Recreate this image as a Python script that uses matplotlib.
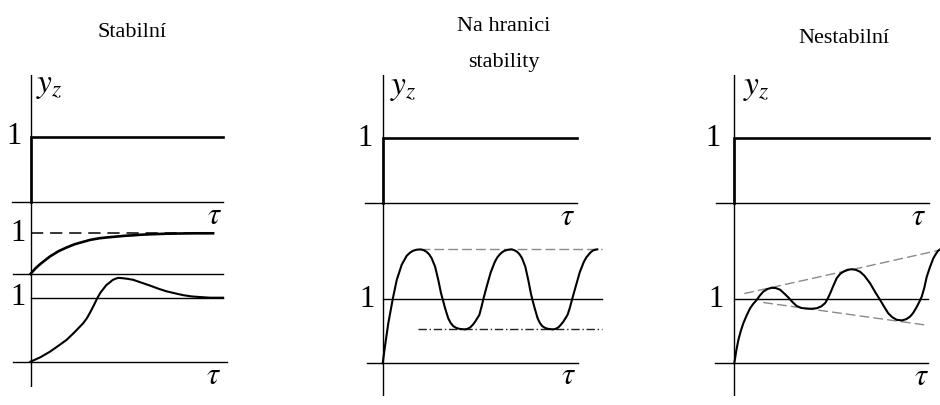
import matplotlib
matplotlib.use("Agg")
import matplotlib.pyplot as plt

plt.rcParams['font.family'] = ['Liberation Serif', 'DejaVu Serif']
plt.rcParams['mathtext.fontset'] = 'stix'

# column titles
titles = ["Stabilní", "Na hranici\nstability", "Nestabilní"]

# unit step input (same in every column)
step_tau = [0, 0]
step_y = [0, 1, 1]

# stable: first-order response
exp_tau = [0, 0.25, 0.5, 0.97, 1.4, 1.8, 2.2, 2.63, 3.0, 3.47, 3.85, 4.3,
           4.75, 5.13, 5.5, 5.97, 6.8, 7.5, 8.25, 9.13]
exp_y = [0, 0.14, 0.25, 0.43, 0.56, 0.65, 0.73, 0.79, 0.84, 0.88, 0.90, 0.92,
         0.94, 0.95, 0.965, 0.975, 0.99, 0.995, 1.0, 1.0]

# stable: response with overshoot
over_tau = [0, 0.5, 0.97, 1.4, 1.8, 2.2, 2.63, 2.82, 3.0, 3.18, 3.35, 3.5,
            3.65, 3.8, 3.97, 4.1, 4.2, 4.38, 4.6, 4.85, 5.13, 5.5, 5.97, 6.4,
            6.8, 7.2, 7.63, 8.05, 8.47, 9.0, 9.63]
over_y = [0, 0.07, 0.156, 0.25, 0.34, 0.46, 0.6, 0.68, 0.78, 0.89, 1.0, 1.08,
          1.14, 1.2, 1.24, 1.275, 1.29, 1.31, 1.305, 1.295, 1.28, 1.24, 1.19,
          1.14, 1.1, 1.07, 1.04, 1.02, 1.01, 1.0, 1.0]

# boundary of stability: undamped oscillation
osc_tau = [0, 0.12, 0.28, 0.5, 0.7, 0.95, 1.2, 1.37, 1.53, 1.7, 1.9, 2.07,
           2.2, 2.33, 2.45, 2.62, 2.78, 2.92, 3.0, 3.12, 3.28, 3.4, 3.53, 3.7,
           3.87, 4.12, 4.25, 4.37, 4.5, 4.62, 4.83, 4.93, 5.03, 5.2, 5.4, 5.6,
           5.72, 5.85, 5.97, 6.1, 6.28, 6.45, 6.6, 6.73, 6.85, 6.97, 7.13,
           7.28, 7.41, 7.48, 7.6, 7.75, 7.86, 7.98, 8.14, 8.3, 8.53, 8.66,
           8.78, 8.9, 9.03, 9.24, 9.36, 9.47, 9.65, 9.85, 10.05, 10.17, 10.3,
           10.4, 10.5, 10.62, 10.73]
osc_y = [0, 0.28, 0.625, 1.0, 1.30, 1.54, 1.68, 1.73, 1.76, 1.775, 1.78,
         1.765, 1.74, 1.70, 1.64, 1.51, 1.30, 1.09, 1.0, 0.86, 0.70, 0.63,
         0.58, 0.55, 0.536, 0.53, 0.54, 0.56, 0.6, 0.65, 0.755, 0.87, 1.0,
         1.2, 1.42, 1.58, 1.65, 1.70, 1.735, 1.76, 1.775, 1.78, 1.765, 1.74,
         1.70, 1.64, 1.51, 1.30, 1.09, 1.0, 0.86, 0.70, 0.63, 0.58, 0.55,
         0.536, 0.53, 0.54, 0.56, 0.6, 0.65, 0.755, 0.87, 1.0, 1.2, 1.42,
         1.58, 1.65, 1.70, 1.735, 1.76, 1.775, 1.78]
osc_hi = 1.78
osc_lo = 0.53

# unstable: growing oscillation
grow_tau = [0, 0.1, 0.2, 0.32, 0.45, 0.62, 0.79, 0.95, 1.12, 1.28, 1.45, 1.65,
            1.87, 2.08, 2.29, 2.5, 2.7, 2.9, 3.12, 3.35, 3.62, 3.87, 4.12,
            4.35, 4.54, 4.67, 4.79, 4.95, 5.12, 5.3, 5.45, 5.65, 5.87, 6.08,
            6.29, 6.5, 6.79, 7.05, 7.29, 7.5, 7.7, 7.9, 8.12, 8.37, 8.6, 8.79,
            8.95, 9.12, 9.25, 9.37, 9.5, 9.62, 9.78, 9.95, 10.08, 10.2, 10.29]
grow_y = [0, 0.2, 0.36, 0.5, 0.625, 0.75, 0.86, 0.93, 0.99, 1.06, 1.12, 1.16,
          1.18, 1.175, 1.15, 1.09, 1.03, 0.96, 0.895, 0.865, 0.855, 0.852,
          0.86, 0.89, 0.94, 1.01, 1.09, 1.21, 1.33, 1.40, 1.43, 1.46, 1.47,
          1.46, 1.43, 1.37, 1.25, 1.11, 0.99, 0.88, 0.78, 0.72, 0.68, 0.67,
          0.69, 0.73, 0.79, 0.88, 0.96, 1.04, 1.18, 1.35, 1.5, 1.64, 1.71,
          1.76, 1.78]
env_hi_tau = [0.5, 10.29]
env_hi_y = [1.09, 1.77]
env_lo_tau = [1.45, 9.52]
env_lo_y = [0.95, 0.6]

W, H = 940, 405
AXIS_LW = 1.0
STEP_LW = 1.9
CURVE_LW = 1.5
BIG = 22

fig = plt.figure(figsize=(W / 100, H / 100), dpi=100)


def sub_axes(x_axis, y_top, y_base, y_bottom, ppu):
    # one stacked diagram; geometry given in pixels, data in tau / y units
    ax = fig.add_axes([(x_axis - 30) / W, 1 - y_bottom / H,
                       260 / W, (y_bottom - y_top) / H])
    ax.set_xlim(-1.5, 11.5)
    ax.set_ylim((y_base - y_bottom) / ppu, (y_base - y_top) / ppu)
    ax.axis('off')
    ax.axvline(0, color='k', lw=AXIS_LW)
    return ax


def baseline(ax, x0, x1):
    ax.plot([x0, x1], [0, 0], color='k', lw=AXIS_LW, clip_on=False)


def one_label(ax, x, y=1.0):
    ax.text(x, y, "1", fontsize=BIG, ha='center', va='center')


def tau_label(ax, x, y):
    ax.text(x, y, r"$\tau$", fontsize=BIG, ha='center', va='center')


def step_diagram(ax, x_end, left, one_x, tau_x, yz_x):
    ax.plot(step_tau + [x_end], step_y, color='k', lw=STEP_LW,
            solid_joinstyle='miter', clip_on=False)
    baseline(ax, left, x_end)
    one_label(ax, one_x)
    ax.text(yz_x, 1.78, r"$y_z$", fontsize=24, ha='left', va='center')
    tau_label(ax, tau_x, -0.22)


# --- Stabilní ---
a_top = sub_axes(30.5, 75, 202, 202, 65.3)
a_mid = sub_axes(30.5, 202, 274, 274, 40.7)
a_bot = sub_axes(30.5, 274, 361.7, 387, 64)
step_diagram(a_top, 9.64, -0.94, -0.83, 9.18, 0.3)

a_mid.plot([0, 9.1], [1, 1], color='k', lw=1.1, ls=(0, (8, 4.5)),
           clip_on=False)
a_mid.plot(exp_tau, exp_y, color='k', lw=1.9, clip_on=False)
baseline(a_mid, -0.88, 9.64)
one_label(a_mid, -0.62)

a_bot.plot([0, 9.64], [1, 1], color='k', lw=AXIS_LW, clip_on=False)
a_bot.plot(over_tau, over_y, color='k', lw=CURVE_LW, clip_on=False)
baseline(a_bot, -0.86, 9.81)
one_label(a_bot, -0.62)
tau_label(a_bot, 9.14, -0.23)

# --- Na hranici stability ---
b_top = sub_axes(382.7, 75, 203, 203, 65)
b_low = sub_axes(382.7, 203, 363.3, 396, 64)
step_diagram(b_top, 9.72, -0.88, -0.89, 9.24, 0.35)

b_low.plot([0, 10.95], [1, 1], color='k', lw=AXIS_LW, clip_on=False)
b_low.plot([1.87, 10.95], [osc_hi, osc_hi], color='#8a8a8a', lw=1.0,
           ls=(0, (7, 3)), clip_on=False)
b_low.plot([1.78, 10.95], [osc_lo, osc_lo], color='#222222', lw=1.0,
           ls=(0, (6, 2, 1, 2)), clip_on=False)
b_low.plot(osc_tau, osc_y, color='k', lw=CURVE_LW, clip_on=False)
baseline(b_low, -0.8, 9.78)
one_label(b_low, -0.8)
tau_label(b_low, 9.27, -0.2)

# --- Nestabilní ---
c_top = sub_axes(734.3, 75, 203, 203, 65)
c_low = sub_axes(734.3, 203, 363.3, 396, 64)
step_diagram(c_top, 9.73, -0.9, -1.04, 9.23, 0.45)

c_low.plot([0, 9.7], [1, 1], color='k', lw=AXIS_LW, clip_on=False)
c_low.plot(env_hi_tau, env_hi_y, color='#8a8a8a', lw=1.0, ls=(0, (7, 3)),
           clip_on=False)
c_low.plot(env_lo_tau, env_lo_y, color='#8a8a8a', lw=1.0, ls=(0, (7, 3)),
           clip_on=False)
c_low.plot(grow_tau, grow_y, color='k', lw=CURVE_LW, clip_on=False)
baseline(c_low, -0.97, 9.67)
one_label(c_low, -0.92)
tau_label(c_low, 9.38, -0.22)

# titles
fig.text(132.5 / W, 1 - 37 / H, titles[0], fontsize=16, ha='center',
         va='baseline')
fig.text(504 / W, 1 - 67 / H, titles[1], fontsize=16, ha='center',
         va='baseline', linespacing=2.2)
fig.text(844 / W, 1 - 43 / H, titles[2], fontsize=16, ha='center',
         va='baseline')

fig.savefig("out.png", dpi=100)
